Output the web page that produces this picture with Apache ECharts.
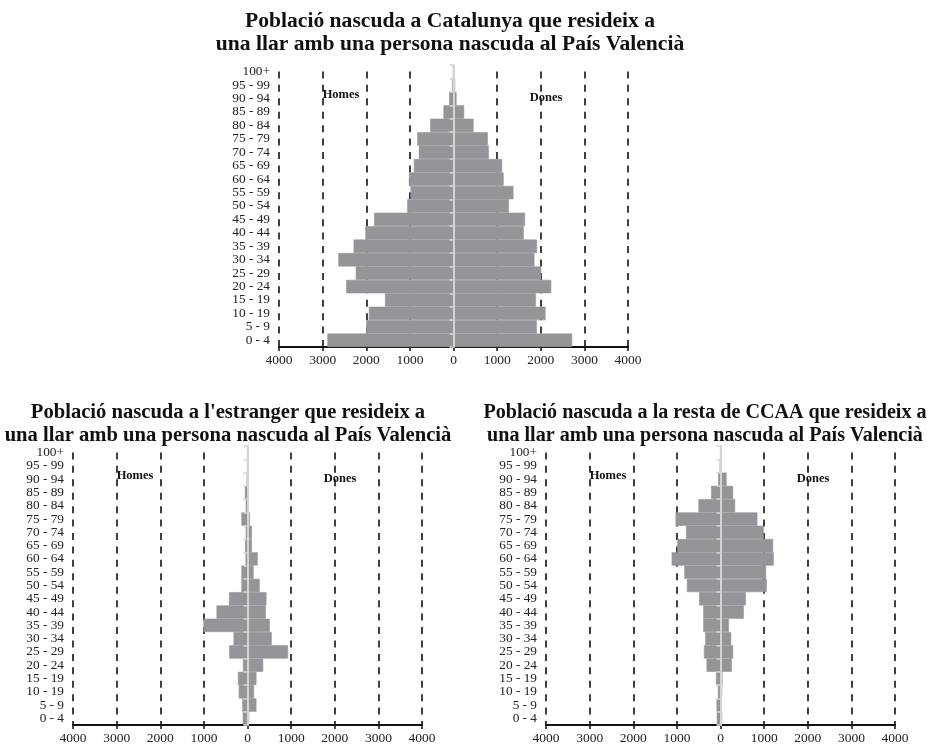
<!DOCTYPE html>
<html>
<head>
<meta charset="utf-8">
<script src="https://cdn.jsdelivr.net/npm/echarts@6/dist/echarts.min.js"></script>
<style>html,body{margin:0;padding:0;background:#fff;}#c{width:930px;height:745px;}</style>
</head>
<body>
<div id="c"></div>
<script>
const ageGroups = ['0 - 4','5 - 9','10 - 19','15 - 19','20 - 24','25 - 29','30 - 34','35 - 39','40 - 44','45 - 49','50 - 54','55 - 59','60 - 64','65 - 69','70 - 74','75 - 79','80 - 84','85 - 89','90 - 94','95 - 99','100+'];
const xTicks = [-4000,-3000,-2000,-1000,0,1000,2000,3000,4000];

const titles = [
  'Població nascuda a Catalunya que resideix a\nuna llar amb una persona nascuda al País Valencià',
  "Població nascuda a l'estranger que resideix a\nuna llar amb una persona nascuda al País Valencià",
  'Població nascuda a la resta de CCAA que resideix a\nuna llar amb una persona nascuda al País Valencià'
];
const menLabel = 'Homes';
const womenLabel = 'Dones';

// Catalunya
const catMen   = [2890,2000,1940,1570,2460,2240,2640,2290,2020,1820,1060,985,1020,910,795,830,535,230,100,25,8];
const catWomen = [2720,1910,2110,1890,2240,2010,1855,1915,1610,1640,1270,1375,1150,1115,810,785,460,245,70,38,12];
// Estranger
const extMen   = [110,120,200,220,105,420,320,1010,710,425,140,140,45,55,40,140,40,60,15,5,3];
const extWomen = [40,205,150,205,360,930,555,510,420,435,280,140,235,100,100,55,25,30,5,3,2];
// Resta de CCAA
const ccaaMen   = [85,90,60,105,320,380,350,395,395,490,770,830,1120,990,790,1030,505,215,55,15,3];
const ccaaWomen = [38,25,38,45,260,290,245,190,535,580,1060,1045,1220,1205,990,845,335,290,140,8,3];

const datasets = [[catMen,catWomen],[extMen,extWomen],[ccaaMen,ccaaWomen]];

const W = 930;
const gridDefs = [
  {left:279, right:W-628, top:65, height:282},
  {left:73,  right:W-422, top:446, height:282},
  {left:546, right:W-895, top:446, height:282}
];
const titlePos = [{x:445, y:5},{x:223, y:396},{x:700, y:396}];
const titleSizes = [21.6, 20.6, 20.1];

const serif = '"Liberation Serif", "Times New Roman", serif';
const barColor = '#939598';

const option = {
  animation:false,
  backgroundColor:'#fff',
  title: titles.map((t,i)=>({
    text:t, left:titlePos[i].x, top:titlePos[i].y, textAlign:'center',
    textStyle:{fontFamily:serif, fontWeight:'bold', fontSize: titleSizes[i], lineHeight:23, color:'#111'}
  })),
  grid: gridDefs.map(g=>({left:g.left, right:g.right, top:g.top, height:g.height, containLabel:false})),
  xAxis: gridDefs.map((g,i)=>({
    type:'value', gridIndex:i, min:-4000, max:4000, interval:1000,
    axisLine:{show:true, onZero:false, lineStyle:{color:'#111', width:2}},
    axisTick:{show:true, length:4, lineStyle:{color:'#111', width:1.5}},
    axisLabel:{color:'#222', fontFamily:serif, fontSize:13.5, margin:6, formatter:v=>String(Math.abs(v))},
    splitLine:{show:true, lineStyle:{color:['#111','#111','#111','#111','rgba(0,0,0,0)','#111','#111','#111','#111'], width:1.6, type:[7,6.43], dashOffset:7}}
  })),
  yAxis: [].concat(...gridDefs.map((g,i)=>[
    {
      type:'category', gridIndex:i, data:ageGroups, position:'left',
      axisLine:{show:false, onZero:false}, axisTick:{show:false},
      axisLabel:{color:'#222', fontFamily:serif, fontSize:13.3, margin:9, interval:0, hideOverlap:false},
      splitLine:{show:false}
    },
    {
      type:'category', gridIndex:i, data:ageGroups, position:'right', z:10,
      axisLine:{show:true, onZero:true, lineStyle:{color:'#d4d4d4', width:2}},
      axisTick:{show:true, inside:true, length:4, interval:0, lineStyle:{color:'#d4d4d4', width:1.5}},
      axisLabel:{show:false}, splitLine:{show:false}
    }
  ])),
  series: [].concat(...datasets.map((d,i)=>[
    {type:'bar', name:menLabel, xAxisIndex:i, yAxisIndex:2*i, stack:'s'+i, barCategoryGap:0,
     itemStyle:{color:barColor, borderColor:barColor, borderWidth:0.6}, data:d[0].map(v=>-v)},
    {type:'bar', name:womenLabel, xAxisIndex:i, yAxisIndex:2*i, stack:'s'+i, barCategoryGap:0,
     itemStyle:{color:barColor, borderColor:barColor, borderWidth:0.6}, data:d[1]}
  ])),
  graphic: [].concat(...gridDefs.map(g=>{
    const sc = (W - g.right - g.left)/8000;
    return [
      {type:'text', left:g.left + 1000*sc, top:g.top+23, z:20,
       style:{text:menLabel, font:'bold 12.5px '+serif, fill:'#111'}},
      {type:'text', left:g.left + 5750*sc, top:g.top+26, z:20,
       style:{text:womenLabel, font:'bold 12.5px '+serif, fill:'#111'}}
    ];
  }))
};
const chart = echarts.init(document.getElementById('c'), null, {renderer:'canvas'});
chart.setOption(option);
</script>
</body>
</html>
